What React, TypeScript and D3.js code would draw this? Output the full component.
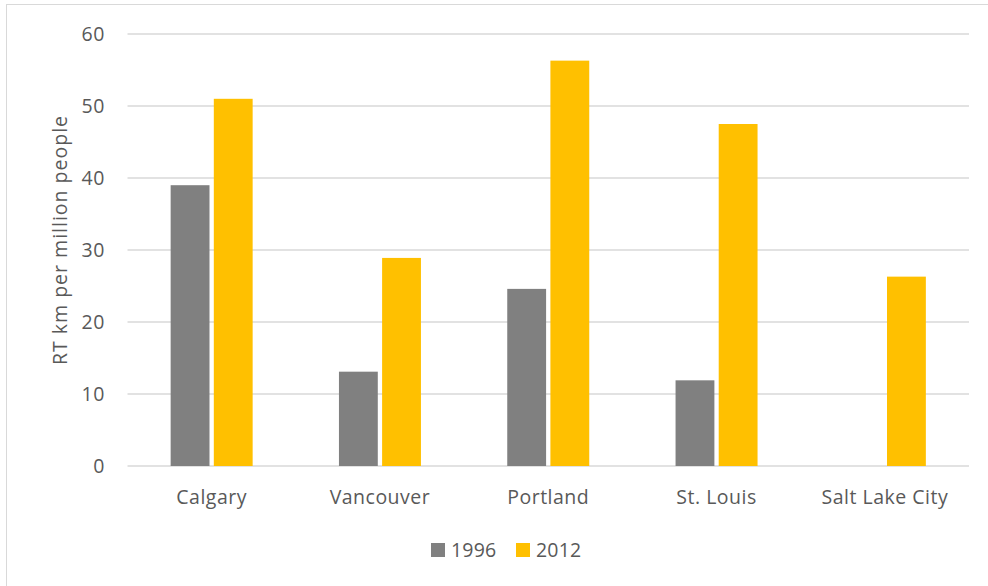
import React from "react";
import * as d3 from "d3";

const categories = ["Calgary", "Vancouver", "Portland", "St. Louis", "Salt Lake City"];
const seriesNames = ["1996", "2012"];
const values1996 = [39, 13.1, 24.6, 11.9, null];
const values2012 = [51, 28.9, 56.3, 47.5, 26.3];
const yTicks = [0, 10, 20, 30, 40, 50, 60];
const colors = ["#808080", "#FFC000"];

const W = 988;
const H = 586;
const FONT = "'Open Sans', 'DejaVu Sans', sans-serif";
const TXT = "#595959";

export default function App() {
  const x0 = d3.scaleBand<string>().domain(categories).range([127.5, 969]).paddingInner(0).paddingOuter(0);
  const bw = x0.bandwidth();
  const x1 = d3
    .scaleBand<string>()
    .domain(seriesNames)
    .range([bw / 2 - 41, bw / 2 + 41])
    .paddingInner(0.1)
    .paddingOuter(0);
  const y = d3.scaleLinear().domain([0, 60]).range([466, 34]);
  const seriesData = [values1996, values2012];

  return (
    <svg width={W} height={H} style={{ position: "absolute", left: 0, top: 0 }} fontFamily={FONT}>
      <rect x={0} y={0} width={W} height={H} fill="#fff" />
      <rect x={6.5} y={4.5} width={W + 10} height={H + 10} fill="none" stroke="#d9d9d9" strokeWidth={1} />
      {yTicks.map((t) => (
        <g key={t}>
          <line x1={127.5} x2={969} y1={y(t)} y2={y(t)} stroke="#d9d9d9" strokeWidth={1.3} />
          <text x={105} y={y(t)} dy="0.36em" textAnchor="end" fontSize={19.5} letterSpacing={0.6} fill={TXT}>
            {t}
          </text>
        </g>
      ))}
      {categories.map((c, i) => (
        <g key={c} transform={`translate(${x0(c)},0)`}>
          {seriesData.map((s, j) => {
            const v = s[i];
            if (v == null) return null;
            return (
              <rect
                key={j}
                x={x1(seriesNames[j])}
                y={y(v)}
                width={x1.bandwidth()}
                height={y(0) - y(v)}
                fill={colors[j]}
              />
            );
          })}
          <text x={bw / 2} y={503.5} textAnchor="middle" fontSize={19.5} letterSpacing={0.5} fill={TXT}>
            {c}
          </text>
        </g>
      ))}
      <text
        transform={`translate(67,240) rotate(-90)`}
        textAnchor="middle"
        fontSize={19.5}
        letterSpacing={1}
        fill={TXT}
      >
        RT km per million people
      </text>
      {seriesNames.map((n, j) => {
        const lx = [431, 516][j];
        return (
          <g key={n}>
            <rect x={lx} y={543} width={14} height={14} fill={colors[j]} />
            <text x={lx + 20} y={557} fontSize={19.5} letterSpacing={0.2} fill={TXT}>
              {n}
            </text>
          </g>
        );
      })}
    </svg>
  );
}
